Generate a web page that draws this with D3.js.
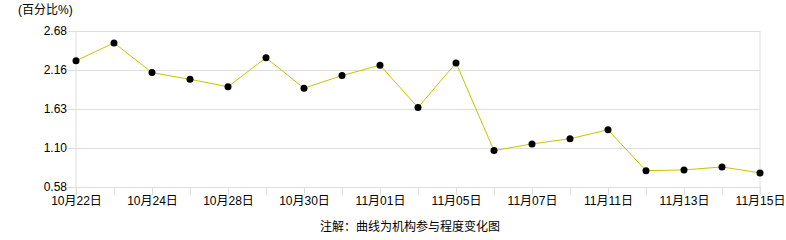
<!DOCTYPE html>
<html>
<head>
<meta charset="utf-8">
<script src="https://cdn.jsdelivr.net/npm/d3@7"></script>
<style>
  body { margin: 0; background: #fff; }
  text { font-family: "Liberation Sans", "Noto Sans CJK SC", sans-serif; font-size: 12px; fill: #000; }
</style>
</head>
<body>
<div id="chart"></div>
<script>
// trading days shown on the x axis (labels only every other day)
var dates = ['10月22日', '10月23日', '10月24日', '10月25日', '10月28日', '10月29日', '10月30日',
             '10月31日', '11月01日', '11月04日', '11月05日', '11月06日', '11月07日', '11月08日',
             '11月11日', '11月12日', '11月13日', '11月14日', '11月15日'];
var values = [2.28, 2.52, 2.12, 2.03, 1.93, 2.32, 1.91, 2.08, 2.22, 1.65, 2.25,
              1.07, 1.16, 1.23, 1.35, 0.80, 0.81, 0.85, 0.77];
var yTicks = [0.58, 1.105, 1.63, 2.155, 2.68];
var yTickLabels = ['0.58', '1.10', '1.63', '2.16', '2.68'];

var width = 786, height = 240;
var margin = ({top: 31, right: 26, bottom: 53, left: 76});
var visWidth = width - margin.left - margin.right;
var visHeight = height - margin.top - margin.bottom;
var fontStack = '"Liberation Sans", "Noto Sans CJK SC", sans-serif';

var x = d3.scalePoint()
    .domain(dates)
    .range([0, visWidth]);
var y = d3.scaleLinear()
    .domain([yTicks[0], yTicks[yTicks.length - 1]])
    .range([visHeight, 0]);

function drawChart() {
  const svg = d3.select('#chart')
    .append('svg')
    .attr('width', width)
    .attr('height', height);

  svg.append('text')
    .attr('x', 18)
    .attr('y', 14)
    .text('(百分比%)');

  const g = svg.append('g')
    .attr('transform', `translate(${margin.left}, ${margin.top})`);

  // horizontal grid + y labels
  const yAxis = d3.axisLeft(y)
    .tickValues(yTicks)
    .tickFormat((d, i) => yTickLabels[i])
    .tickSize(-visWidth - 8)
    .tickPadding(1);
  g.append('g')
    .attr('transform', 'translate(-8,0)')
    .call(yAxis)
    .call(a => a.select('.domain').remove())
    .call(a => a.selectAll('line').attr('stroke', '#dedede').attr('x1', 0).attr('x2', visWidth + 8))
    .call(a => a.selectAll('text').style('font-size', '12px').attr('fill', '#000')
      .style('font-family', fontStack));

  // x axis with a tick for each day, label every other one
  const xAxis = d3.axisBottom(x)
    .tickSize(8)
    .tickSizeOuter(0)
    .tickPadding(1)
    .tickFormat((d, i) => i % 2 === 0 ? d : '');
  g.append('g')
    .attr('transform', `translate(0, ${visHeight})`)
    .call(xAxis)
    .call(a => a.select('.domain').attr('stroke', '#dedede'))
    .call(a => a.selectAll('line').attr('stroke', '#dedede'))
    .call(a => a.selectAll('text').style('font-size', '12px').attr('fill', '#000')
      .style('font-family', fontStack));

  // left and right frame lines
  g.append('line')
    .attr('x1', 0).attr('x2', 0)
    .attr('y1', 0).attr('y2', visHeight + 8)
    .attr('stroke', '#dedede');
  g.append('line')
    .attr('x1', visWidth).attr('x2', visWidth)
    .attr('y1', 0).attr('y2', visHeight + 8)
    .attr('stroke', '#dedede');

  const line = d3.line()
    .x((d, i) => x(dates[i]))
    .y(d => y(d));

  g.append('path')
    .datum(values)
    .attr('fill', 'none')
    .attr('stroke', '#c8c400')
    .attr('stroke-width', 1)
    .attr('d', line);

  g.selectAll('circle')
    .data(values)
    .join('circle')
    .attr('cx', (d, i) => x(dates[i]))
    .attr('cy', d => y(d))
    .attr('r', 3.5)
    .attr('fill', '#000');

  svg.append('text')
    .attr('x', 410)
    .attr('y', 231)
    .attr('text-anchor', 'middle')
    .text('注解：曲线为机构参与程度变化图');

  return svg.node();
}

window.onload = drawChart;
</script>
</body>
</html>
